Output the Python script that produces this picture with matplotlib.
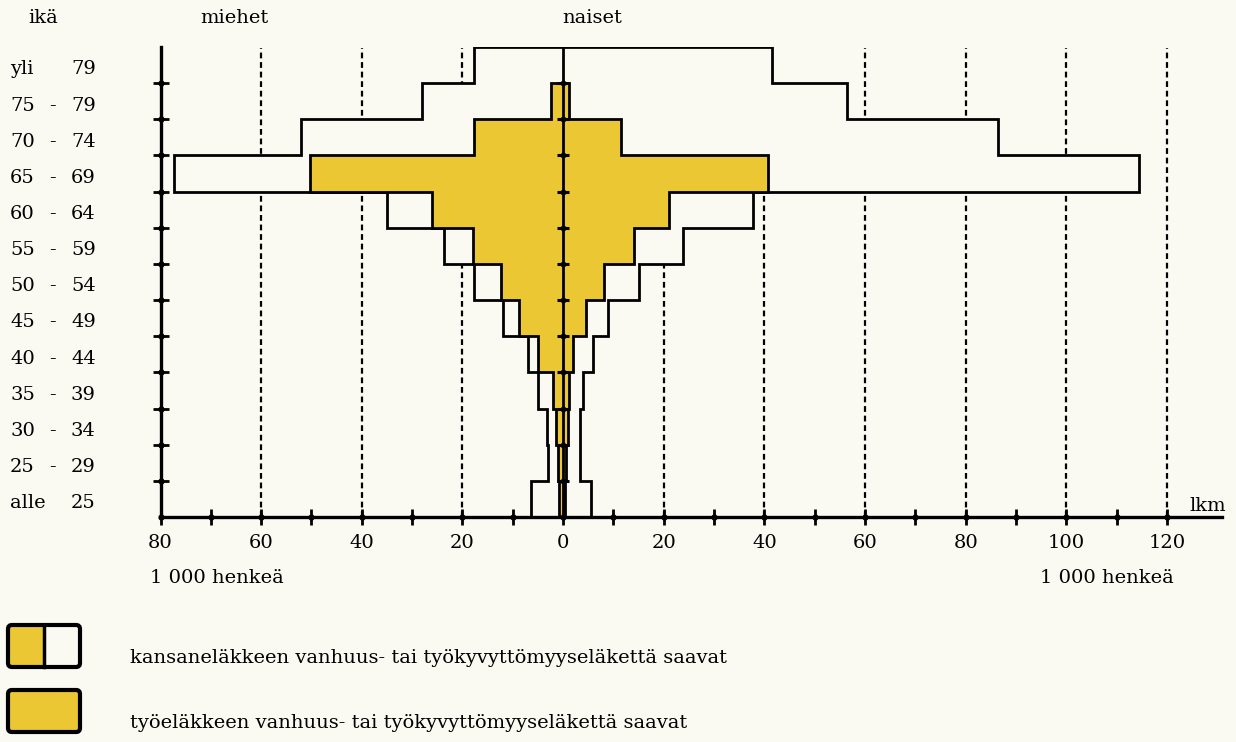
import numpy as np
import matplotlib
matplotlib.use('Agg')
import matplotlib.pyplot as plt
from matplotlib.patches import FancyBboxPatch, Rectangle
from matplotlib import transforms

# ---------------- data (1 000 persons) ----------------
age_groups = ['alle 25', '25 - 29', '30 - 34', '35 - 39', '40 - 44', '45 - 49',
              '50 - 54', '55 - 59', '60 - 64', '65 - 69', '70 - 74', '75 - 79', 'yli 79']
men_kansanelake = [6.4, 3.0, 3.2, 5.0, 7.0, 12.0, 17.7, 23.6, 34.9, 77.3, 52.1, 28.1, 17.7]
women_kansanelake = [5.6, 3.4, 3.3, 4.0, 6.0, 9.0, 15.1, 23.8, 37.8, 114.4, 86.5, 56.4, 41.6]
men_tyoelake = [0.8, 1.1, 1.4, 2.1, 4.9, 8.7, 12.4, 18.0, 26.1, 50.3, 17.7, 2.4, 0.0]
women_tyoelake = [0.4, 0.6, 0.9, 1.2, 1.9, 4.5, 8.2, 14.0, 21.0, 40.7, 11.6, 1.2, 0.0]
x_major = list(range(-80, 121, 20))
x_minor = list(range(-70, 121, 20))
x_major_labels = [str(abs(v)) for v in x_major]
grid_x = [-60, -40, -20, 20, 40, 60, 80, 100, 120]
legend_labels = ['kansaneläkkeen vanhuus- tai työkyvyttömyyseläkettä saavat',
                 'työeläkkeen vanhuus- tai työkyvyttömyyseläkettä saavat']

PAPER = '#fbfaf2'
YELLOW = '#eac733'
FONT = 'DejaVu Serif'

W, H = 1236, 742
fig = plt.figure(figsize=(W / 100, H / 100), dpi=100, facecolor=PAPER)

# overlay in pixel coordinates for free text / legend
ov = fig.add_axes([0, 0, 1, 1])
ov.set_xlim(0, W)
ov.set_ylim(H, 0)
ov.axis('off')

# main chart axes: x -80 at px 160.5, 120 at px 1167; rows from px 517 up to 47
x0_px, x120_px, xr_px = 160.5, 1167.0, 1222.0
pxu = (x120_px - x0_px) / 200.0
x_right = 120 + (xr_px - x120_px) / pxu
y_bot_px, y_top_px = 517.0, 47.0
ax = fig.add_axes([x0_px / W, 1 - y_bot_px / H, (xr_px - x0_px) / W, (y_bot_px - y_top_px) / H])
ax.set_facecolor('none')
n = len(age_groups)
edges = np.arange(n + 1)
ax.set_xlim(-80, x_right)
ax.set_ylim(0, n)

# dashed reference lines
for gx in grid_x:
    ax.plot([gx, gx], [0, n - 0.02], color='black', lw=1.6, dashes=(2.6, 1.7), zorder=1)

# outer (kansaneläke) outline
men_k = np.array(men_kansanelake)
wom_k = np.array(women_kansanelake)
men_t = np.array(men_tyoelake)
wom_t = np.array(women_tyoelake)
ax.stairs(wom_k, edges, baseline=-men_k, orientation='horizontal', fill=True,
          facecolor=PAPER, edgecolor='black', linewidth=2.0, zorder=2)
# inner (työeläke) filled
m = n - 1
ax.stairs(wom_t[:m], edges[:m + 1], baseline=-men_t[:m], orientation='horizontal', fill=True,
          facecolor=YELLOW, edgecolor='black', linewidth=2.0, zorder=3)

# centre line with ticks
ax.plot([0, 0], [0, n], color='black', lw=2.0, zorder=5, solid_capstyle='butt')
ax.plot(np.zeros(n - 1), edges[1:-1], ls='none', marker='_', ms=8, mew=2.2, color='black', zorder=5)
ax.plot(np.zeros(n - 1), edges[1:-1], ls='none', marker='o', ms=3.2, color='black', zorder=5)

# axes spines / ticks
for s in ['top', 'right']:
    ax.spines[s].set_visible(False)
ax.spines['left'].set_linewidth(2.4)
ax.spines['bottom'].set_linewidth(2.4)
ax.set_yticks(edges[1:-1])
ax.set_yticklabels([])
ax.tick_params(axis='y', direction='inout', length=11, width=2.0, color='black')
ax.set_xticks(x_major)
ax.set_xticklabels(x_major_labels, fontfamily=FONT, fontsize=14)
ax.set_xticks(x_minor, minor=True)
ax.tick_params(axis='x', which='both', direction='inout', length=11, width=2.0, pad=7, color='black')
ax.plot(np.full(n - 1, -80), edges[1:-1], ls='none', marker='o', ms=3.5, color='black',
        clip_on=False, zorder=6)
ax.plot(np.array(x_major + x_minor), np.zeros(len(x_major) + len(x_minor)), ls='none', marker='o',
        ms=3.5, color='black', clip_on=False, zorder=6)

# age labels
tr = transforms.blended_transform_factory(ov.transData, ax.transData)
for i, lab in enumerate(age_groups):
    yy = i + 0.5 - 0.12
    if ' - ' in lab:
        a, b = lab.split(' - ')
        ax.text(52, yy, '-', transform=tr, ha='center', va='center', fontfamily=FONT, fontsize=14)
    else:
        a, b = lab.split(' ')
    ax.text(10, yy, a, transform=tr, ha='left', va='center', fontfamily=FONT, fontsize=14)
    ax.text(71, yy, b, transform=tr, ha='left', va='center', fontfamily=FONT, fontsize=14)

# header / unit texts
ov.text(28, 18, 'ikä', ha='left', va='center', fontfamily=FONT, fontsize=14)
ov.text(200, 18, 'miehet', ha='left', va='center', fontfamily=FONT, fontsize=14)
ov.text(562, 18, 'naiset', ha='left', va='center', fontfamily=FONT, fontsize=14)
ov.text(1189, 506, 'lkm', ha='left', va='center', fontfamily=FONT, fontsize=14)
ov.text(150, 578, '1 000 henkeä', ha='left', va='center', fontfamily=FONT, fontsize=14)
ov.text(1040, 578, '1 000 henkeä', ha='left', va='center', fontfamily=FONT, fontsize=14)

# legend
bx, bw, bh = 8, 72, 42
for k, by in enumerate([625, 690]):
    if k == 0:
        ov.add_patch(Rectangle((bx, by), bw / 2, bh, facecolor=YELLOW, edgecolor='none'))
        ov.add_patch(Rectangle((bx + bw / 2, by), bw / 2, bh, facecolor=PAPER, edgecolor='none'))
        ov.plot([bx + bw / 2, bx + bw / 2], [by, by + bh], color='black', lw=2.5)
    else:
        ov.add_patch(Rectangle((bx, by), bw, bh, facecolor=YELLOW, edgecolor='none'))
    ov.add_patch(FancyBboxPatch((bx, by), bw, bh, boxstyle='round,pad=0,rounding_size=4',
                                facecolor='none', edgecolor='black', linewidth=3.0))
    ov.text(130, by + 33, legend_labels[k], ha='left', va='center', fontfamily=FONT, fontsize=14)

fig.savefig('out.png', dpi=100, facecolor=PAPER)
